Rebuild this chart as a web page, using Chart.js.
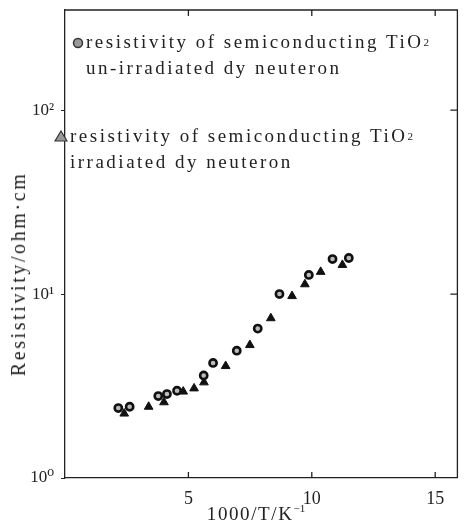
<!DOCTYPE html>
<html>
<head>
<meta charset="utf-8">
<script src="https://cdn.jsdelivr.net/npm/chart.js@4.4.0/dist/chart.umd.min.js"></script>
<style>
  body { margin: 0; background: #fff; }
  #wrap { position: relative; width: 464px; height: 520px; }
  .leg, .ttl { position: absolute; font-family: "Liberation Serif", "DejaVu Serif", serif; color: #222; white-space: nowrap; }
  .leg { font-size: 19px; letter-spacing: 2.5px; line-height: 24px; }
  .leg small { font-size: 11px; position: relative; top: -2px; letter-spacing: 0; }
  .ttl { font-size: 19px; letter-spacing: 1.6px; line-height: 20px; }
  .ttl sup { font-size: 11px; letter-spacing: 0; }
  .mk { position: absolute; }
</style>
</head>
<body>
<div id="wrap">
  <canvas id="chart" width="464" height="520"></canvas>
  <svg class="mk" style="left:72px;top:37px" width="12" height="12"><circle cx="6" cy="6" r="4.5" fill="#999" stroke="#333" stroke-width="1.5"/></svg>
  <div class="leg" style="left:86px;top:30px">resistivity of semiconducting TiO<small>2</small><br>un-irradiated dy neuteron</div>
  <svg class="mk" style="left:54px;top:130px" width="14" height="12"><polygon points="7,1 13,11 1,11" fill="#999" stroke="#333" stroke-width="1.2"/></svg>
  <div class="leg" style="left:70px;top:124px">resistivity of semiconducting TiO<small>2</small><br>irradiated dy neuteron</div>
  <div class="ttl" style="left:18px;top:274px;font-size:20px;letter-spacing:2.6px;transform:translate(-50%,-50%) rotate(-90deg)">Resistivity/ohm·cm</div>
  <div class="ttl" style="left:256px;top:511px;transform:translate(-50%,-50%)">1000/T/K<sup>−1</sup></div>
</div>
<script>
// values
const xTicks = [5, 10, 15];
const yTicks = [1, 10, 100];
const yTickLabels = ['10⁰', '10¹', '10²'];

const unirradX = [2.16, 2.62, 3.78, 4.13, 4.54, 5.62, 6.0, 6.96, 7.81, 8.69, 9.88, 10.84, 11.5];
const unirradY = [2.40, 2.44, 2.79, 2.86, 2.98, 3.61, 4.22, 4.92, 6.49, 10.0, 12.7, 15.5, 15.7];

const irradX = [2.4, 3.39, 4.01, 4.79, 5.23, 5.63, 6.51, 7.49, 8.34, 9.2, 9.72, 10.36, 11.24];
const irradY = [2.24, 2.44, 2.58, 2.95, 3.07, 3.31, 4.06, 5.28, 7.39, 9.75, 11.3, 13.2, 14.4];

const ink = '#222';
const serif = '"Liberation Serif", "DejaVu Serif", serif';

// frame on top/right and inward ticks
const framePlugin = {
    id: 'frame',
    afterDraw(chart) {
        const { ctx, chartArea: a, scales } = chart;
        ctx.save();
        ctx.strokeStyle = ink;
        ctx.lineWidth = 1.3;
        ctx.beginPath();
        ctx.moveTo(a.left, a.top); ctx.lineTo(a.right, a.top); ctx.lineTo(a.right, a.bottom);
        xTicks.forEach(v => {
            const px = scales.x.getPixelForValue(v);
            ctx.moveTo(px, a.bottom); ctx.lineTo(px, a.bottom - 6);
            ctx.moveTo(px, a.top); ctx.lineTo(px, a.top + 6);
        });
        yTicks.slice(1).forEach(v => {
            const py = scales.y.getPixelForValue(v);
            ctx.moveTo(a.right, py); ctx.lineTo(a.right - 7, py);
        });
        ctx.stroke();
        ctx.restore();
    }
};

new Chart(document.getElementById('chart'), {
    type: 'scatter',
    data: {
        datasets: [{
            label: 'un-irradiated',
            data: unirradX.map((x, i) => ({ x, y: unirradY[i] })),
            pointStyle: 'circle',
            pointRadius: 3.6,
            pointBackgroundColor: '#bbb',
            pointBorderColor: '#111',
            pointBorderWidth: 2.6
        }, {
            label: 'irradiated',
            data: irradX.map((x, i) => ({ x, y: irradY[i] })),
            pointStyle: 'triangle',
            pointRadius: 5,
            pointBackgroundColor: '#111',
            pointBorderColor: '#111',
            pointBorderWidth: 1
        }]
    },
    options: {
        responsive: false,
        animation: false,
        layout: { padding: { top: 10, right: 3, left: 0, bottom: 0 } },
        plugins: {
            legend: { display: false },
            tooltip: { enabled: false }
        },
        scales: {
            x: {
                type: 'linear',
                min: 0,
                max: 15.9,
                afterBuildTicks: s => { s.ticks = xTicks.map(v => ({ value: v })); },
                afterFit: s => { s.height = 42; s.paddingLeft = 0; s.paddingRight = 0; },
                grid: { display: false },
                border: { display: true, color: ink, width: 1.3 },
                ticks: { color: ink, font: { family: serif, size: 18 }, padding: 2, maxRotation: 0 }
            },
            y: {
                type: 'logarithmic',
                min: 1,
                max: 350,
                afterBuildTicks: s => { s.ticks = yTicks.map(v => ({ value: v })); },
                afterFit: s => { s.width = 65; s.paddingTop = 0; s.paddingBottom = 0; },
                grid: { display: true, drawOnChartArea: false, tickLength: 4, color: ink },
                border: { display: true, color: ink, width: 1.3 },
                ticks: { color: ink, font: { family: serif, size: 17 }, padding: 7,
                         callback: (v, i) => yTickLabels[i] }
            }
        }
    },
    plugins: [framePlugin]
});
</script>
</body>
</html>
